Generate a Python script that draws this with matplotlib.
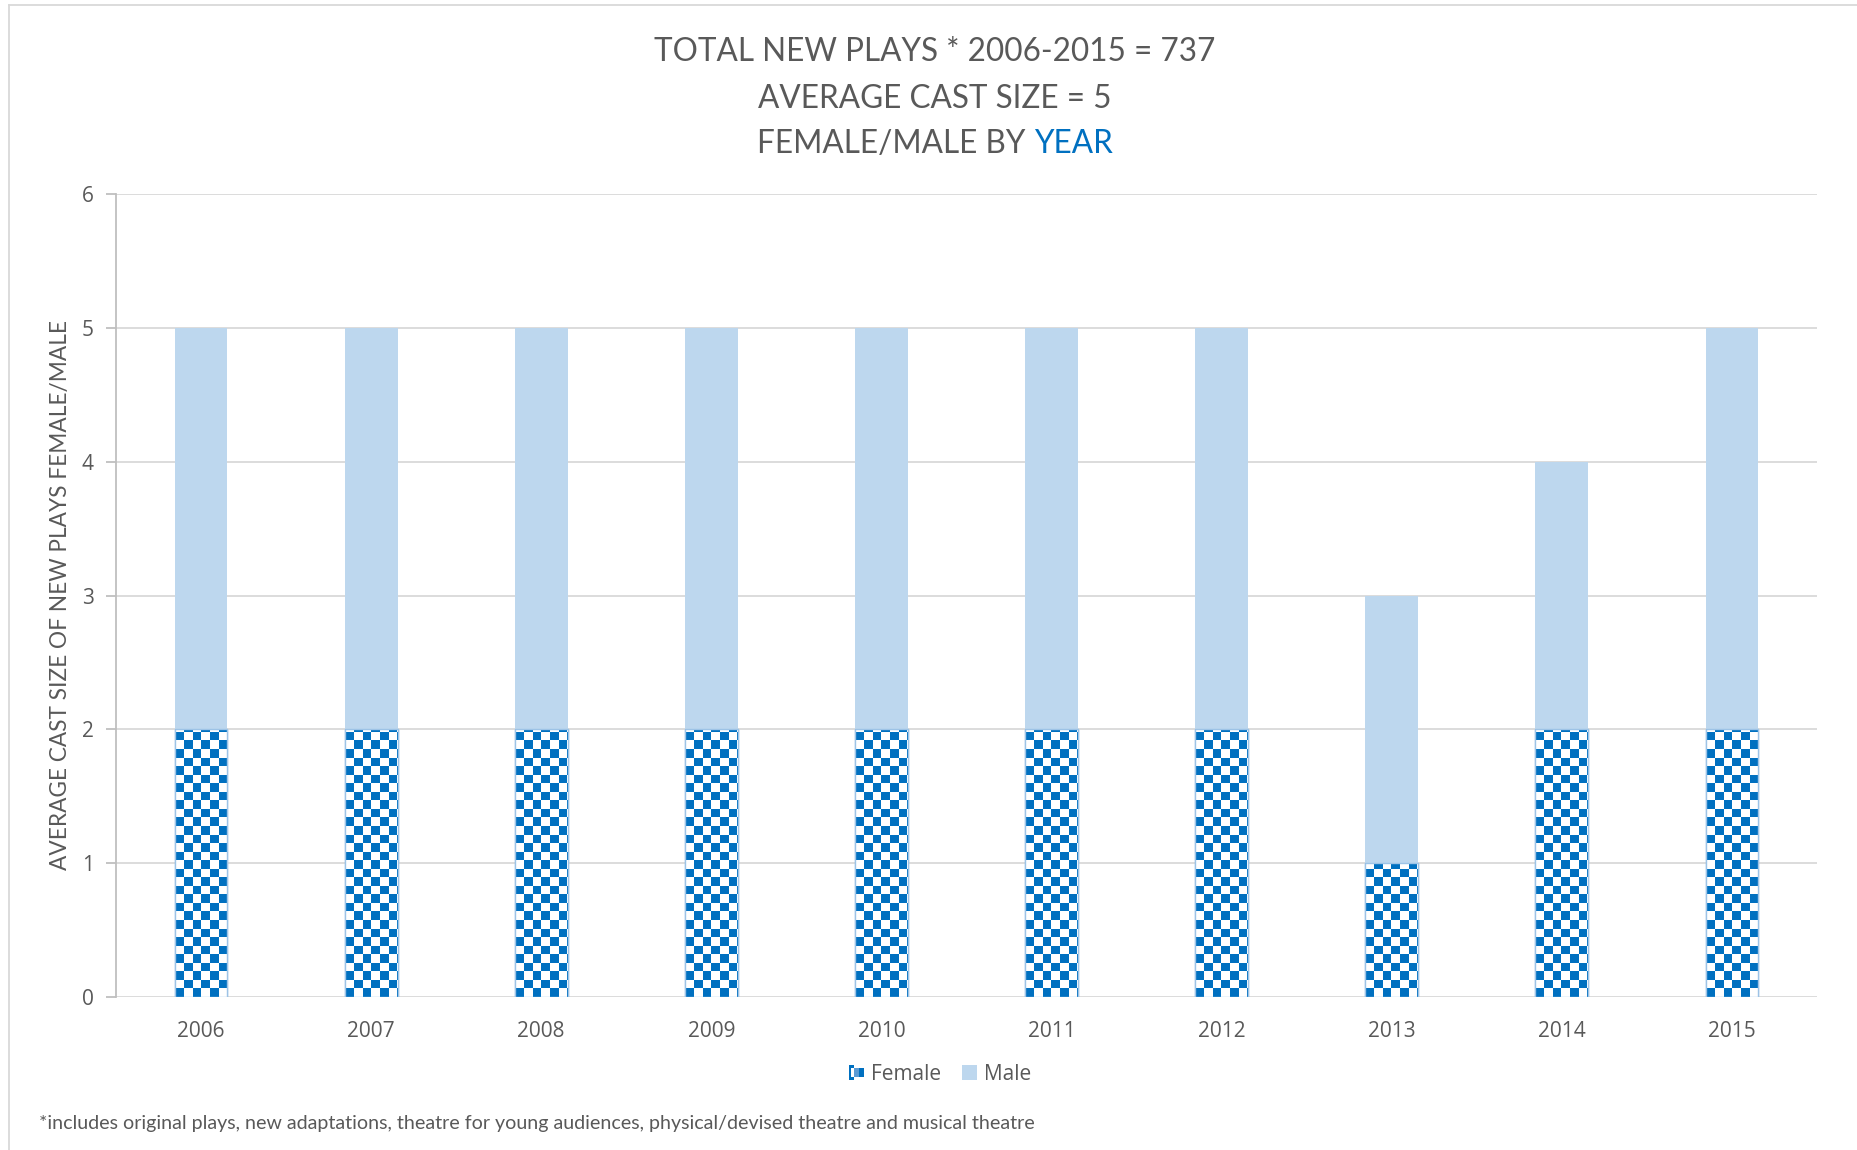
import numpy as np
import matplotlib
matplotlib.use("Agg")
import matplotlib.pyplot as plt
from matplotlib.patches import Rectangle
from matplotlib.legend_handler import HandlerBase
from matplotlib.lines import Line2D
from matplotlib.colors import ListedColormap

years = ["2006", "2007", "2008", "2009", "2010", "2011", "2012", "2013", "2014", "2015"]
female = [2, 2, 2, 2, 2, 2, 2, 1, 2, 2]
male = [3, 3, 3, 3, 3, 3, 3, 2, 2, 3]
yticks = [0, 1, 2, 3, 4, 5, 6]

DARK = "#0070C0"
LIGHT = "#BDD7EE"
GRAY = "#595959"
FONT = "Lato"

W, H = 1858, 1150
fig = plt.figure(figsize=(W / 100, H / 100), dpi=100)
ax = fig.add_axes([116 / W, 1 - 997 / H, (1817 - 116) / W, (997 - 194) / H])

x = np.arange(len(years))
bw = 0.31
fbars = ax.bar(x, female, bw, color="white", edgecolor="#9DC3E6", linewidth=1, zorder=2, label="Female")
mbars = ax.bar(x, male, bw, bottom=female, color=LIGHT, linewidth=0, zorder=2, label="Male")

# checker pattern fill clipped to female bars
cell = 8.5
nx = int(round((1817 - 116) / cell))
ny = int(round((997 - 194) / cell))
yy, xx = np.mgrid[0:ny, 0:nx]
board = ((xx + yy) % 2).astype(float)
cmap = ListedColormap(["white", DARK])
for b in fbars:
    im = ax.imshow(board, extent=[-0.5, len(years) - 0.5, 0, yticks[-1]], origin="lower",
                   cmap=cmap, interpolation="nearest", aspect="auto", zorder=2.5)
    im.set_clip_path(b)
for b in fbars:
    ax.add_patch(Rectangle(b.get_xy(), b.get_width(), b.get_height(), fill=False,
                           edgecolor="#9DC3E6", linewidth=1, zorder=3))

ax.set_xlim(-0.5, len(years) - 0.5)
ax.set_ylim(yticks[0], yticks[-1])
ax.set_yticks(yticks)
ax.set_xticks(x)
ax.set_xticklabels(years)
ax.grid(axis="y", color="#D9D9D9", linewidth=1.3, zorder=0)
ax.set_axisbelow(True)
for s in ["top", "right", "bottom"]:
    ax.spines[s].set_visible(False)
ax.spines["left"].set_color("#BFBFBF")
ax.spines["left"].set_linewidth(1.3)
ax.tick_params(axis="y", length=7, width=1.3, color="#BFBFBF", labelsize=15, labelcolor=GRAY, pad=9)
ax.tick_params(axis="x", length=0, labelsize=15, labelcolor=GRAY, pad=17)
for lab in ax.get_xticklabels() + ax.get_yticklabels():
    lab.set_family("Open Sans")

ax.set_ylabel("AVERAGE CAST SIZE OF NEW PLAYS FEMALE/MALE", fontsize=16.3, color=GRAY,
              family="Lato", labelpad=8)

# title
TS = 22.7
Y1, Y2, Y3 = 52, 99, 144
fig.text(935 / W, 1 - Y1 / H, "TOTAL NEW PLAYS * 2006-2015 = 737", ha="center", va="center",
         fontsize=TS, color=GRAY, family=FONT)
fig.text(935 / W, 1 - Y2 / H, "AVERAGE CAST SIZE = 5", ha="center", va="center",
         fontsize=TS, color=GRAY, family=FONT)
t1 = fig.text(935 / W, 1 - Y3 / H, "FEMALE/MALE BY ", ha="right", va="center",
              fontsize=TS, color=GRAY, family=FONT)
fig.canvas.draw()
r = fig.canvas.get_renderer()
bb = t1.get_window_extent(renderer=r)
tmp = fig.text(0, 0, "YEAR", fontsize=TS, family=FONT)
bb2 = tmp.get_window_extent(renderer=r)
tmp.remove()
total = bb.width + bb2.width
left = 935 - total / 2
t1.set_position(((left + bb.width) / W, 1 - Y3 / H))
fig.text((left + bb.width) / W, 1 - Y3 / H, "YEAR", ha="left", va="center",
         fontsize=TS, color=DARK, family=FONT)


class CheckerHandler(HandlerBase):
    def create_artists(self, legend, orig_handle, xdescent, ydescent, width, height, fontsize, trans):
        s = min(width, height)
        x0 = -xdescent + (width - s) / 2
        y0 = -ydescent + (height - s) / 2
        c = s / 3
        arts = []
        arts.append(Rectangle((x0, y0), c, c * 0.6, facecolor=DARK, edgecolor="none", transform=trans))
        arts.append(Rectangle((x0, y0 + s - c * 0.6), c, c * 0.6, facecolor=DARK, edgecolor="none", transform=trans))
        arts.append(Rectangle((x0, y0), c * 0.35, s, facecolor=DARK, edgecolor="none", transform=trans))
        arts.append(Rectangle((x0 + c, y0 + c * 0.6), c, s - 1.2 * c, facecolor="#5B9BD5", edgecolor="none", transform=trans))
        arts.append(Rectangle((x0 + 2 * c, y0 + c * 0.6), c, s - 1.2 * c, facecolor=DARK, edgecolor="none", transform=trans))
        return arts


fh = Rectangle((0, 0), 1, 1)
mh = Rectangle((0, 0), 1, 1, facecolor=LIGHT, edgecolor="none")
leg = fig.legend([fh, mh], ["Female", "Male"], handler_map={fh: CheckerHandler()},
                 loc="center", bbox_to_anchor=(940 / W, 1 - 1074 / H), ncol=2, frameon=False,
                 prop={"family": "Open Sans", "size": 15}, labelcolor=GRAY,
                 handlelength=0.75, handleheight=0.75, handletextpad=0.3, columnspacing=1.0)

fig.text(39 / W, 1 - 1123 / H,
         "*includes original plays, new adaptations, theatre for young audiences, physical/devised theatre and musical theatre",
         ha="left", va="center", fontsize=14.15, color=GRAY, family="Lato")

# chart border
fig.add_artist(Line2D([9 / W, 9 / W], [0, 1 - 5 / H], transform=fig.transFigure, color="#D9D9D9", linewidth=1.3))
fig.add_artist(Line2D([9 / W, 1], [1 - 5 / H, 1 - 5 / H], transform=fig.transFigure, color="#D9D9D9", linewidth=1.3))

fig.savefig("out.png", dpi=100, facecolor="white")
